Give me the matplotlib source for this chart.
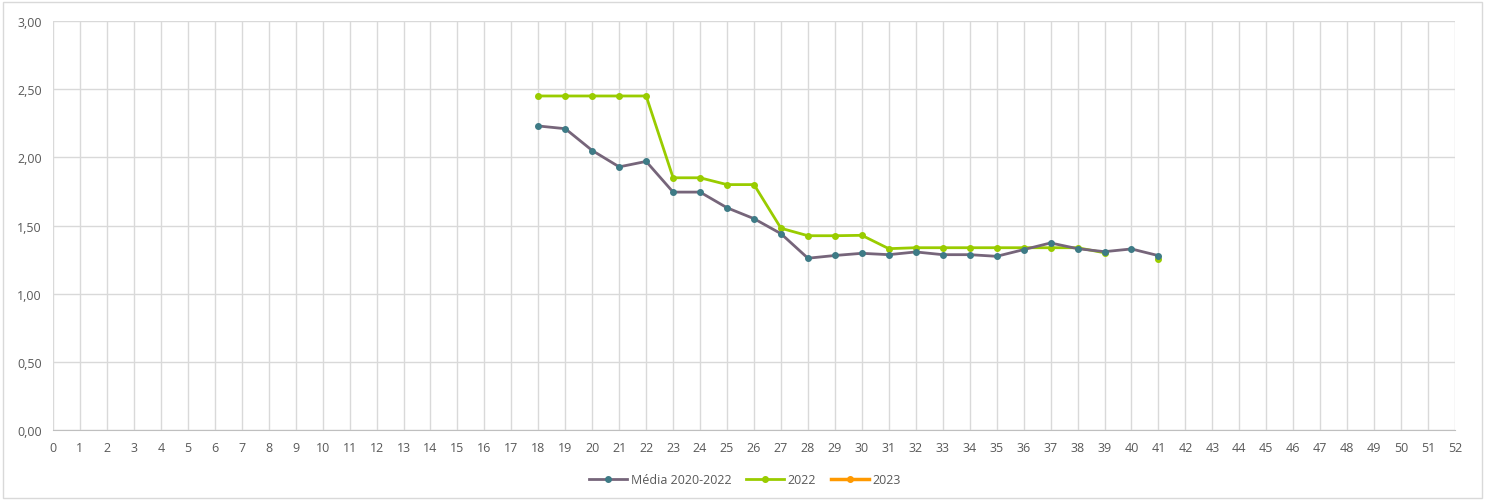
import numpy as np
import matplotlib
matplotlib.use("Agg")
import matplotlib.pyplot as plt
from matplotlib.lines import Line2D
from matplotlib.patches import Rectangle

weeks = list(range(18, 42))
media = [2.23, 2.21, 2.05, 1.93, 1.97, 1.745, 1.745, 1.63, 1.55, 1.44, 1.26, 1.28,
         1.296, 1.286, 1.306, 1.286, 1.286, 1.274, 1.323, 1.372, 1.33, 1.308, 1.328, 1.279]
y2022 = [2.45, 2.45, 2.45, 2.45, 2.45, 1.85, 1.85, 1.80, 1.80, 1.48, 1.425, 1.425,
         1.428, 1.33, 1.337, 1.337, 1.337, 1.337, 1.337, 1.337, 1.337, 1.30, np.nan, 1.254]
y2023 = []
labels = ["Média 2020-2022", "2022", "2023"]

plt.rcParams['font.family'] = ['Open Sans', 'DejaVu Sans']

fig = plt.figure(figsize=(14.85, 5.02), dpi=100)
ax = fig.add_axes([53/1485, 1-431/502, (1455-53)/1485, (431-22)/502])

c_media_line = "#76657A"
c_media_mk = "#3E7B86"
c_2022 = "#99CC00"
c_2023 = "#FF9900"

ax.plot(weeks, y2022, color=c_2022, lw=2.0, marker='o', ms=4, zorder=3)
ax.plot(weeks, media, color=c_media_line, lw=2.0, marker='o', ms=4,
        mfc=c_media_mk, mec=c_media_mk, zorder=4)
ax.plot([], [], color=c_2023, lw=2.5, marker='o', ms=4)

ax.set_xlim(0, 52)
ax.set_ylim(0, 3)
ax.set_xticks(range(0, 53))
ax.set_yticks(np.arange(0, 3.01, 0.5))
ax.set_yticklabels([f"{v:.2f}".replace('.', ',') for v in np.arange(0, 3.01, 0.5)])
ax.grid(True, color="#D9D9D9", lw=1.0)
ax.set_axisbelow(True)
for s in ['top', 'right', 'left']:
    ax.spines[s].set_visible(False)
ax.spines['bottom'].set_color("#BFBFBF")
ax.tick_params(axis='both', length=0, labelsize=9, colors="#595959", pad=8)

handles = [
    Line2D([], [], color=c_media_line, lw=2.0, marker='o', ms=4, mfc=c_media_mk, mec=c_media_mk),
    Line2D([], [], color=c_2022, lw=2.0, marker='o', ms=4),
    Line2D([], [], color=c_2023, lw=2.5, marker='o', ms=4),
]
fig.legend(handles, labels, loc='center', bbox_to_anchor=(745/1485, 1-481/502), ncol=3,
           frameon=False, fontsize=9, labelcolor="#595959", handlelength=3,
           columnspacing=1.2, handletextpad=0.3)

fig.patches.append(Rectangle((3/1485, 3/502), 1479/1485, 496/502, transform=fig.transFigure,
                             fill=False, edgecolor="#D9D9D9", lw=1.0))

fig.savefig("out.png", dpi=100)
